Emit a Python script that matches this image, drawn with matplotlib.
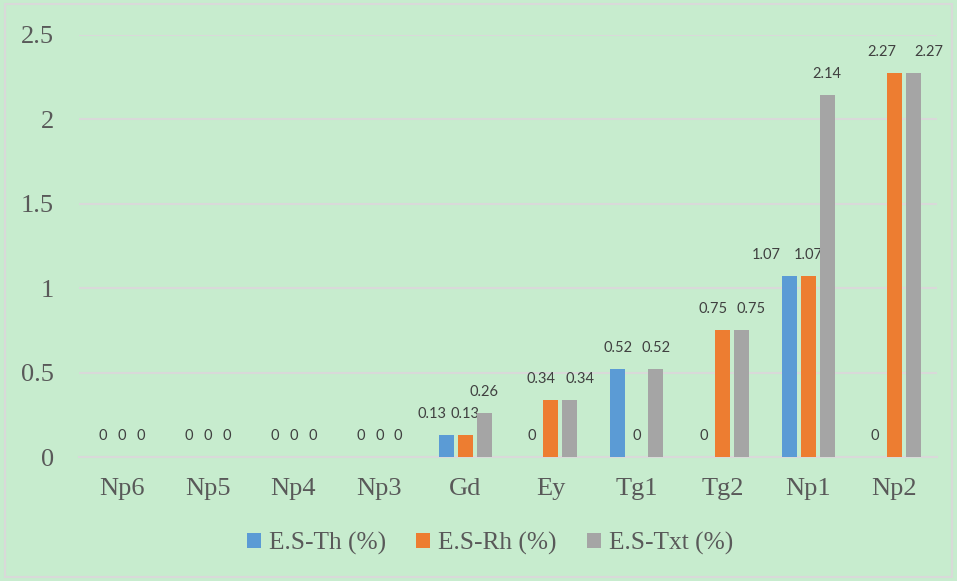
import numpy as np
import matplotlib.pyplot as plt
from matplotlib.patches import Rectangle

# data
categories = ['Np6', 'Np5', 'Np4', 'Np3', 'Gd', 'Ey', 'Tg1', 'Tg2', 'Np1', 'Np2']
es_th = [0, 0, 0, 0, 0.13, 0, 0.52, 0, 1.07, 0]
es_rh = [0, 0, 0, 0, 0.13, 0.34, 0, 0.75, 1.07, 2.27]
es_txt = [0, 0, 0, 0, 0.26, 0.34, 0.52, 0.75, 2.14, 2.27]
series_names = ['E.S-Th (%)', 'E.S-Rh (%)', 'E.S-Txt (%)']

colors = ['#5B9BD5', '#ED7D31', '#A5A5A5']
bg = '#C7ECCE'
text_col = '#595959'

# sideways nudges (pixels) for labels that would collide, as in the original
nudge = {(0, 'Gd'): -14, (1, 'Ey'): -10, (2, 'Ey'): 10,
         (1, 'Tg2'): -9, (2, 'Tg2'): 10, (0, 'Np1'): -23,
         (1, 'Np2'): -12, (2, 'Np2'): 16}

fig = plt.figure(figsize=(9.57, 5.81), dpi=100, facecolor=bg)
ax = fig.add_axes([0.0825, 0.2134, 0.8966, 0.7272])
ax.set_facecolor(bg)

x = np.arange(len(categories))
step = 0.221
width = 0.175
for i, (vals, name) in enumerate(zip([es_th, es_rh, es_txt], series_names)):
    pos = x + (i - 1) * step
    ax.bar(pos, vals, width, color=colors[i], label=name, zorder=3)
    for px, v, cat in zip(pos, vals, categories):
        dx = nudge.get((i, cat), 0)
        ax.annotate(f'{v:g}', (px, v), xytext=(dx, 21), textcoords='offset pixels',
                    ha='center', va='center', fontsize=10.5, family='Lato',
                    color='#404040')

ax.set_xlim(-0.5, len(categories) - 0.5)
ax.set_ylim(0, 2.5)
ax.set_yticks([0, 0.5, 1, 1.5, 2, 2.5])
ax.set_yticklabels(['0', '0.5', '1', '1.5', '2', '2.5'])
ax.set_xticks(x)
ax.set_xticklabels(categories)
for lab in ax.get_xticklabels() + ax.get_yticklabels():
    lab.set_family('Liberation Serif')
    lab.set_fontsize(19)
    lab.set_color(text_col)
ax.tick_params(axis='y', length=0, pad=18)
ax.tick_params(axis='x', length=0, pad=15)
ax.grid(axis='y', color='#D9D9D9', linewidth=1.5, zorder=0)
for s in ['top', 'right', 'left']:
    ax.spines[s].set_visible(False)
ax.spines['bottom'].set_color('#D9D9D9')
ax.spines['bottom'].set_linewidth(1.5)

leg = fig.legend(loc='center', bbox_to_anchor=(0.512, 0.065), ncol=3, frameon=False,
                 prop={'family': 'Liberation Serif', 'size': 18.3},
                 handlelength=0.55, handleheight=0.55, handletextpad=0.3,
                 columnspacing=1.2, labelcolor=text_col)

# light border round the whole chart
fig.patches.append(Rectangle((0.005, 0.007), 0.99, 0.986, transform=fig.transFigure,
                             fill=False, edgecolor='#D9D9D9', linewidth=1.5))

fig.savefig('out.png', dpi=100, facecolor=bg)
